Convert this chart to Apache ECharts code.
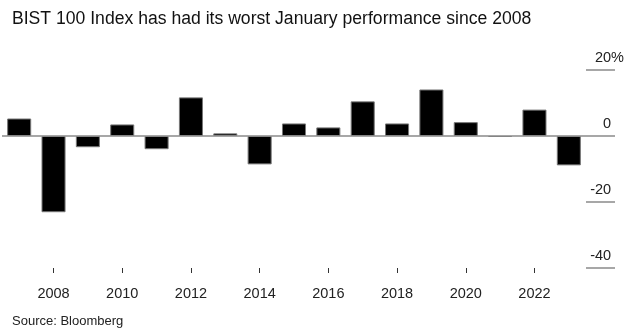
<!DOCTYPE html>
<html>
<head>
<meta charset="utf-8">
<script src="https://cdn.jsdelivr.net/npm/echarts@6/dist/echarts.min.js"></script>
<style>html,body{margin:0;padding:0;background:#fff}#c{width:639px;height:334px}</style>
</head>
<body>
<div id="c"></div>
<script>
var years = ['2007','2008','2009','2010','2011','2012','2013','2014','2015','2016','2017','2018','2019','2020','2021','2022','2023'];
var januaryReturns = [5.3, -23.1, -3.4, 3.5, -4.0, 11.7, 0.8, -8.6, 3.8, 2.6, 10.5, 3.8, 14.1, 4.2, -0.3, 8.0, -8.9];
var yTicks = [-40, -20, 0, 20];

var FONT = '"Liberation Sans", Arial, Helvetica, sans-serif';
var chart = echarts.init(document.getElementById('c'), null, {renderer: 'canvas'});
chart.setOption({
  animation: false,
  backgroundColor: '#fff',
  title: [{
    text: 'BIST 100 Index has had its worst January performance since 2008',
    left: 7, top: 5,
    textStyle: {fontFamily: FONT, fontSize: 17.6, fontWeight: 'normal', color: '#111'}
  }, {
    text: 'Source: Bloomberg',
    left: 7, top: 310,
    textStyle: {fontFamily: FONT, fontSize: 13, fontWeight: 'normal', color: '#222'}
  }],
  grid: {left: 2, right: 53, top: 70, bottom: 66},
  xAxis: {
    type: 'category',
    data: years,
    axisLine: {show: false, onZero: false},
    axisTick: {show: true, alignWithLabel: true, length: 5,
      interval: function (i) { return i % 2 === 1; },
      lineStyle: {color: '#333', width: 1}},
    axisLabel: {
      interval: function (i) { return i % 2 === 1; },
      margin: 18, fontFamily: FONT, fontSize: 14.5, color: '#222'
    }
  },
  yAxis: {
    type: 'value',
    position: 'right',
    min: yTicks[0], max: yTicks[yTicks.length - 1], interval: 20,
    axisLine: {show: false},
    splitLine: {show: false},
    axisTick: {show: true, length: 29, lineStyle: {color: '#8a8a8a', width: 1.5}},
    axisLabel: {
      margin: 38, align: 'right', verticalAlign: 'bottom', padding: [0, 0, 5, 0],
      fontFamily: FONT, fontSize: 14.5, color: '#222',
      formatter: function (v) { return v === 20 ? '{n|20}{p|%}' : '{n|' + v + '}{s|}'; },
      rich: {
        n: {fontFamily: FONT, fontSize: 14.5, color: '#222'},
        p: {fontFamily: FONT, fontSize: 14.5, color: '#222'},
        s: {width: 12.9, fontFamily: FONT, fontSize: 14.5}
      }
    }
  },
  series: [{
    type: 'bar',
    data: januaryReturns,
    barCategoryGap: '30%',
    itemStyle: {color: '#000', borderColor: '#777', borderWidth: 1},
    markLine: {
      silent: true, symbol: 'none', label: {show: false},
      lineStyle: {color: '#8a8a8a', width: 1.5, type: 'solid'},
      data: [{yAxis: 0}]
    }
  }]
});
</script>
</body>
</html>
